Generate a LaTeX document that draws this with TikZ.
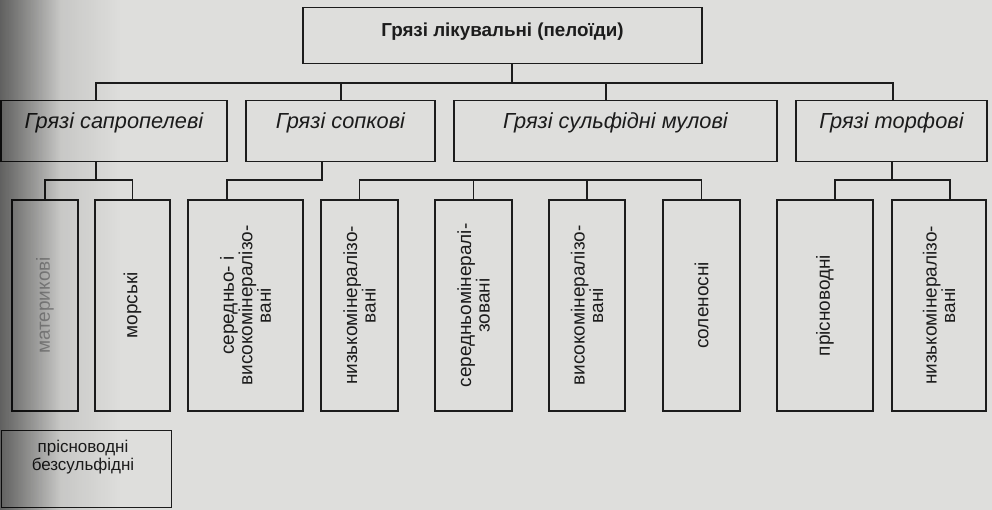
\documentclass[tikz,border=0pt]{standalone}
\usepackage{fontspec}
\setmainfont{Liberation Sans}
\usetikzlibrary{fadings}
\definecolor{pagebg}{RGB}{222,222,220}
\definecolor{ink}{RGB}{28,28,28}
\tikzfading[name=fadeR, left color=transparent!0, right color=transparent!100]
\begin{document}
\begin{tikzpicture}[x=1pt,y=-1pt,
  every node/.style={text=ink},
  lw/.style={line width=1.4pt, draw=ink},
  conn/.style={line width=1.4pt, draw=ink},
  titlebox/.style={lw, inner sep=0pt, minimum width=399pt, text height=29pt, text depth=27pt,
    font=\bfseries\fontsize{18.8}{21}\selectfont, anchor=north},
  kindbox/.style={lw, inner sep=0pt, minimum width=#1, text height=28pt, text depth=33pt,
    font=\itshape\fontsize{21.8}{24}\selectfont, anchor=north},
  vbox/.style={lw, rotate=90, inner sep=0pt, minimum width=211pt, minimum height=#1,
    align=center, font=\fontsize{19}{18.5}\selectfont}
]
\useasboundingbox (0,0) rectangle (992,510);
\fill[pagebg] (0,0) rectangle (992,510);

% level 1
\node[titlebox] (top) at (502.5,7) {Грязі лікувальні (пелоїди)};

% level 2
\node[kindbox=226pt] (sap) at (114,100) {Грязі сапропелеві};
\node[kindbox=189pt] (sop) at (340.5,100) {Грязі сопкові};
\node[kindbox=323pt] (sul) at (615.5,100) {Грязі сульфідні мулові};
\node[kindbox=191pt] (tor) at (891.5,100) {Грязі торфові};

\coordinate (k0) at (512,83);
\coordinate (k1) at (96,83);
\coordinate (k2) at (341,83);
\coordinate (k3) at (606,83);
\coordinate (k4) at (893,83);
\draw[conn] (top.south -| k0) -- (k0);
\draw[conn] (sap.north -| k1) -- (k1) -- (k4) -- (tor.north -| k4);
\draw[conn] (k2) -- (sop.north -| k2);
\draw[conn] (k3) -- (sul.north -| k3);

% level 3
\node[vbox=66pt, text=ink!45] (b1) at (45,305.5) {материкові};
\node[vbox=75pt] (b2) at (132.5,305.5) {морські};
\node[vbox=115pt] (b3) at (245.5,305.5) {середньо- і\\високомінералізо-\\вані};
\node[vbox=77pt] (b4) at (359.5,305.5) {низькомінералізо-\\вані};
\node[vbox=77pt] (b5) at (473.5,305.5) {середньомінералі-\\зовані};
\node[vbox=76pt] (b6) at (587,305.5) {високомінералізо-\\вані};
\node[vbox=77pt] (b7) at (701.5,305.5) {соленосні};
\node[vbox=96pt] (b8) at (825,305.5) {прісноводні};
\node[vbox=94pt] (b9) at (939,305.5) {низькомінералізо-\\вані};

% connectors level 2 -> 3
\coordinate (s1) at (96,180);
\draw[conn] (sap.south -| s1) -- (s1);
\draw[conn] (b1.east) |- (s1) -| (b2.east);

\coordinate (s2) at (322,180);
\coordinate (s2b) at (227,180);
\draw[conn] (sop.south -| s2) -- (s2) -- (s2b) -- (b3.east -| s2b);

\coordinate (s3) at (0,180);
\draw[conn] (b4.east) -- (b4.east |- s3) -- (b7.east |- s3) -- (b7.east);
\draw[conn] (b5.east) -- (b5.east |- s3);
\draw[conn] (b6.east) -- (b6.east |- s3);

\coordinate (s4) at (892,180);
\coordinate (s4a) at (835,180);
\coordinate (s4b) at (950,180);
\draw[conn] (tor.south -| s4) -- (s4);
\draw[conn] (b8.east -| s4a) -- (s4a) -- (s4b) -- (b9.east -| s4b);

% bottom box
\node[lw, minimum width=170pt, minimum height=77pt, inner sep=0pt, anchor=north west] (bot) at (1,430) {};
\node[font=\fontsize{17}{18}\selectfont, align=center, inner sep=0pt] (bott) at (83,457) {прісноводні\\безсульфідні};

% scan shading on the left edge
\fill[black, fill opacity=0.45, path fading=fadeR] (0,0) rectangle (60,510);
\fill[black, fill opacity=0.2, path fading=fadeR] (0,0) rectangle (120,510);
\end{tikzpicture}
\end{document}
